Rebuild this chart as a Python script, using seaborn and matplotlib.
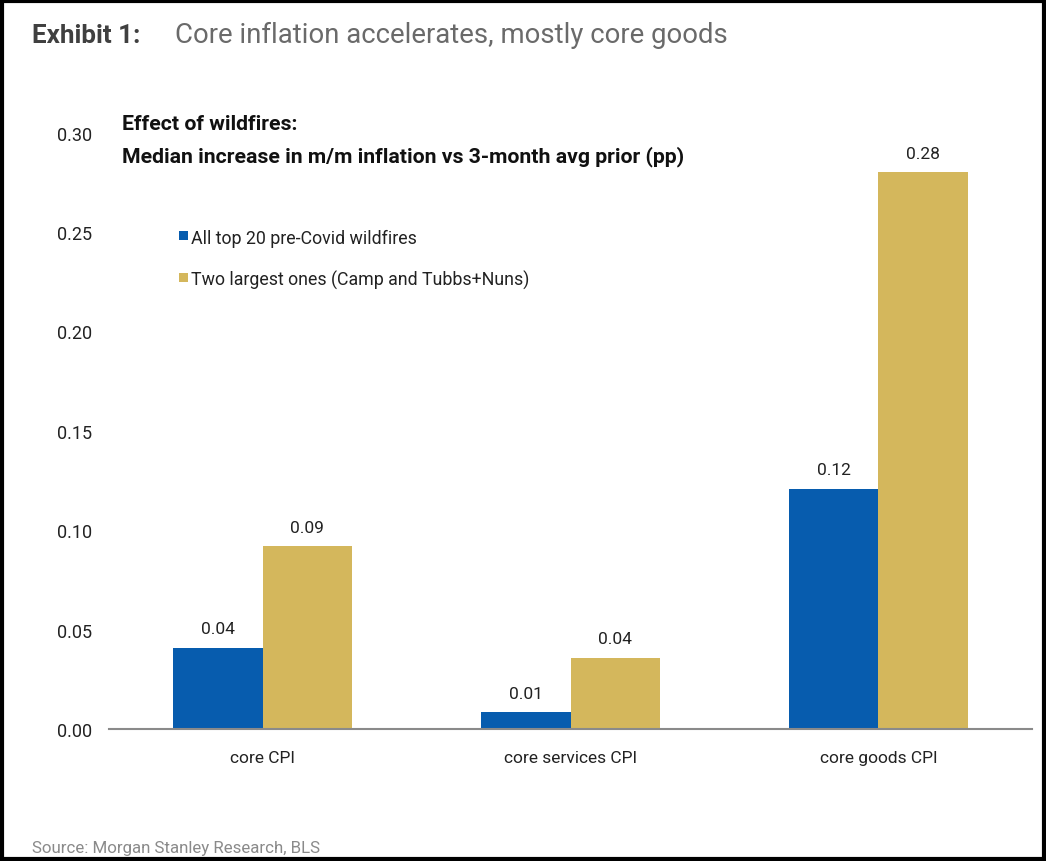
import matplotlib
matplotlib.use('Agg')
import matplotlib.pyplot as plt
import seaborn as sns
import pandas as pd
from matplotlib.patches import Rectangle

# data
categories = ['core CPI', 'core services CPI', 'core goods CPI']
series_names = ['All top 20 pre-Covid wildfires', 'Two largest ones (Camp and Tubbs+Nuns)']
all_top20 = [0.041, 0.0085, 0.121]
two_largest = [0.092, 0.036, 0.280]
yticks = [0.00, 0.05, 0.10, 0.15, 0.20, 0.25, 0.30]
colors = ['#075cae', '#d4b75c']

df = pd.DataFrame({
    'category': categories * 2,
    'series': [series_names[0]] * 3 + [series_names[1]] * 3,
    'value': all_top20 + two_largest,
})

sns.set_style('white')
plt.rcParams['font.family'] = ['Roboto', 'DejaVu Sans']

fig = plt.figure(figsize=(10.46, 8.62), dpi=100)
ax = fig.add_axes([0.104, 0.153, 0.883, 0.692])

sns.barplot(data=df, x='category', y='value', hue='series', palette=colors,
            width=0.58, gap=0, saturation=1, linewidth=0, ax=ax, legend=False)

for cont in ax.containers:
    ax.bar_label(cont, fmt='%.2f', padding=8, fontsize=12.5, color='#222222')

ax.set_ylim(0, 0.30)
ax.set_xlim(-0.5, 2.5)
ax.set_yticks(yticks)
ax.set_yticklabels([f'{t:.2f}' for t in yticks])
ax.tick_params(axis='y', length=0, labelsize=13, pad=12, labelcolor='#222222')
ax.tick_params(axis='x', length=0, labelsize=12.5, pad=15, labelcolor='#222222')
ax.set_xlabel('')
ax.set_ylabel('')
for s in ['top', 'right', 'left']:
    ax.spines[s].set_visible(False)
ax.spines['bottom'].set_color('#8a8a8a')
ax.spines['bottom'].set_linewidth(1.5)

# subtitle and legend inside chart area
fig.text(0.117, 0.849, 'Effect of wildfires:', fontsize=15.3, fontweight='bold', color='#111111')
fig.text(0.117, 0.812, 'Median increase in m/m inflation vs 3-month avg prior (pp)',
         fontsize=15.3, fontweight='bold', color='#111111')
for i, (name, c) in enumerate(zip(series_names, colors)):
    y = 0.720 - i * 0.048
    fig.patches.append(Rectangle((0.171, y), 0.0085, 0.0105, transform=fig.transFigure,
                                 facecolor=c, edgecolor='none'))
    fig.text(0.183, y - 0.003, name, fontsize=12.8, color='#222222')

# header and source
fig.text(0.031, 0.950, 'Exhibit 1:', fontsize=18.7, fontweight='bold', color='#404040')
fig.text(0.167, 0.950, 'Core inflation accelerates, mostly core goods', fontsize=19.8, color='#6a6a6a')
fig.text(0.031, 0.010, 'Source: Morgan Stanley Research, BLS', fontsize=12.2, color='#8a8a8a')

# outer frame
fig.patches.append(Rectangle((0.0015, 0.002), 0.997, 0.996, transform=fig.transFigure,
                             facecolor='none', edgecolor='black', linewidth=3))

fig.savefig('out.png', dpi=100)
